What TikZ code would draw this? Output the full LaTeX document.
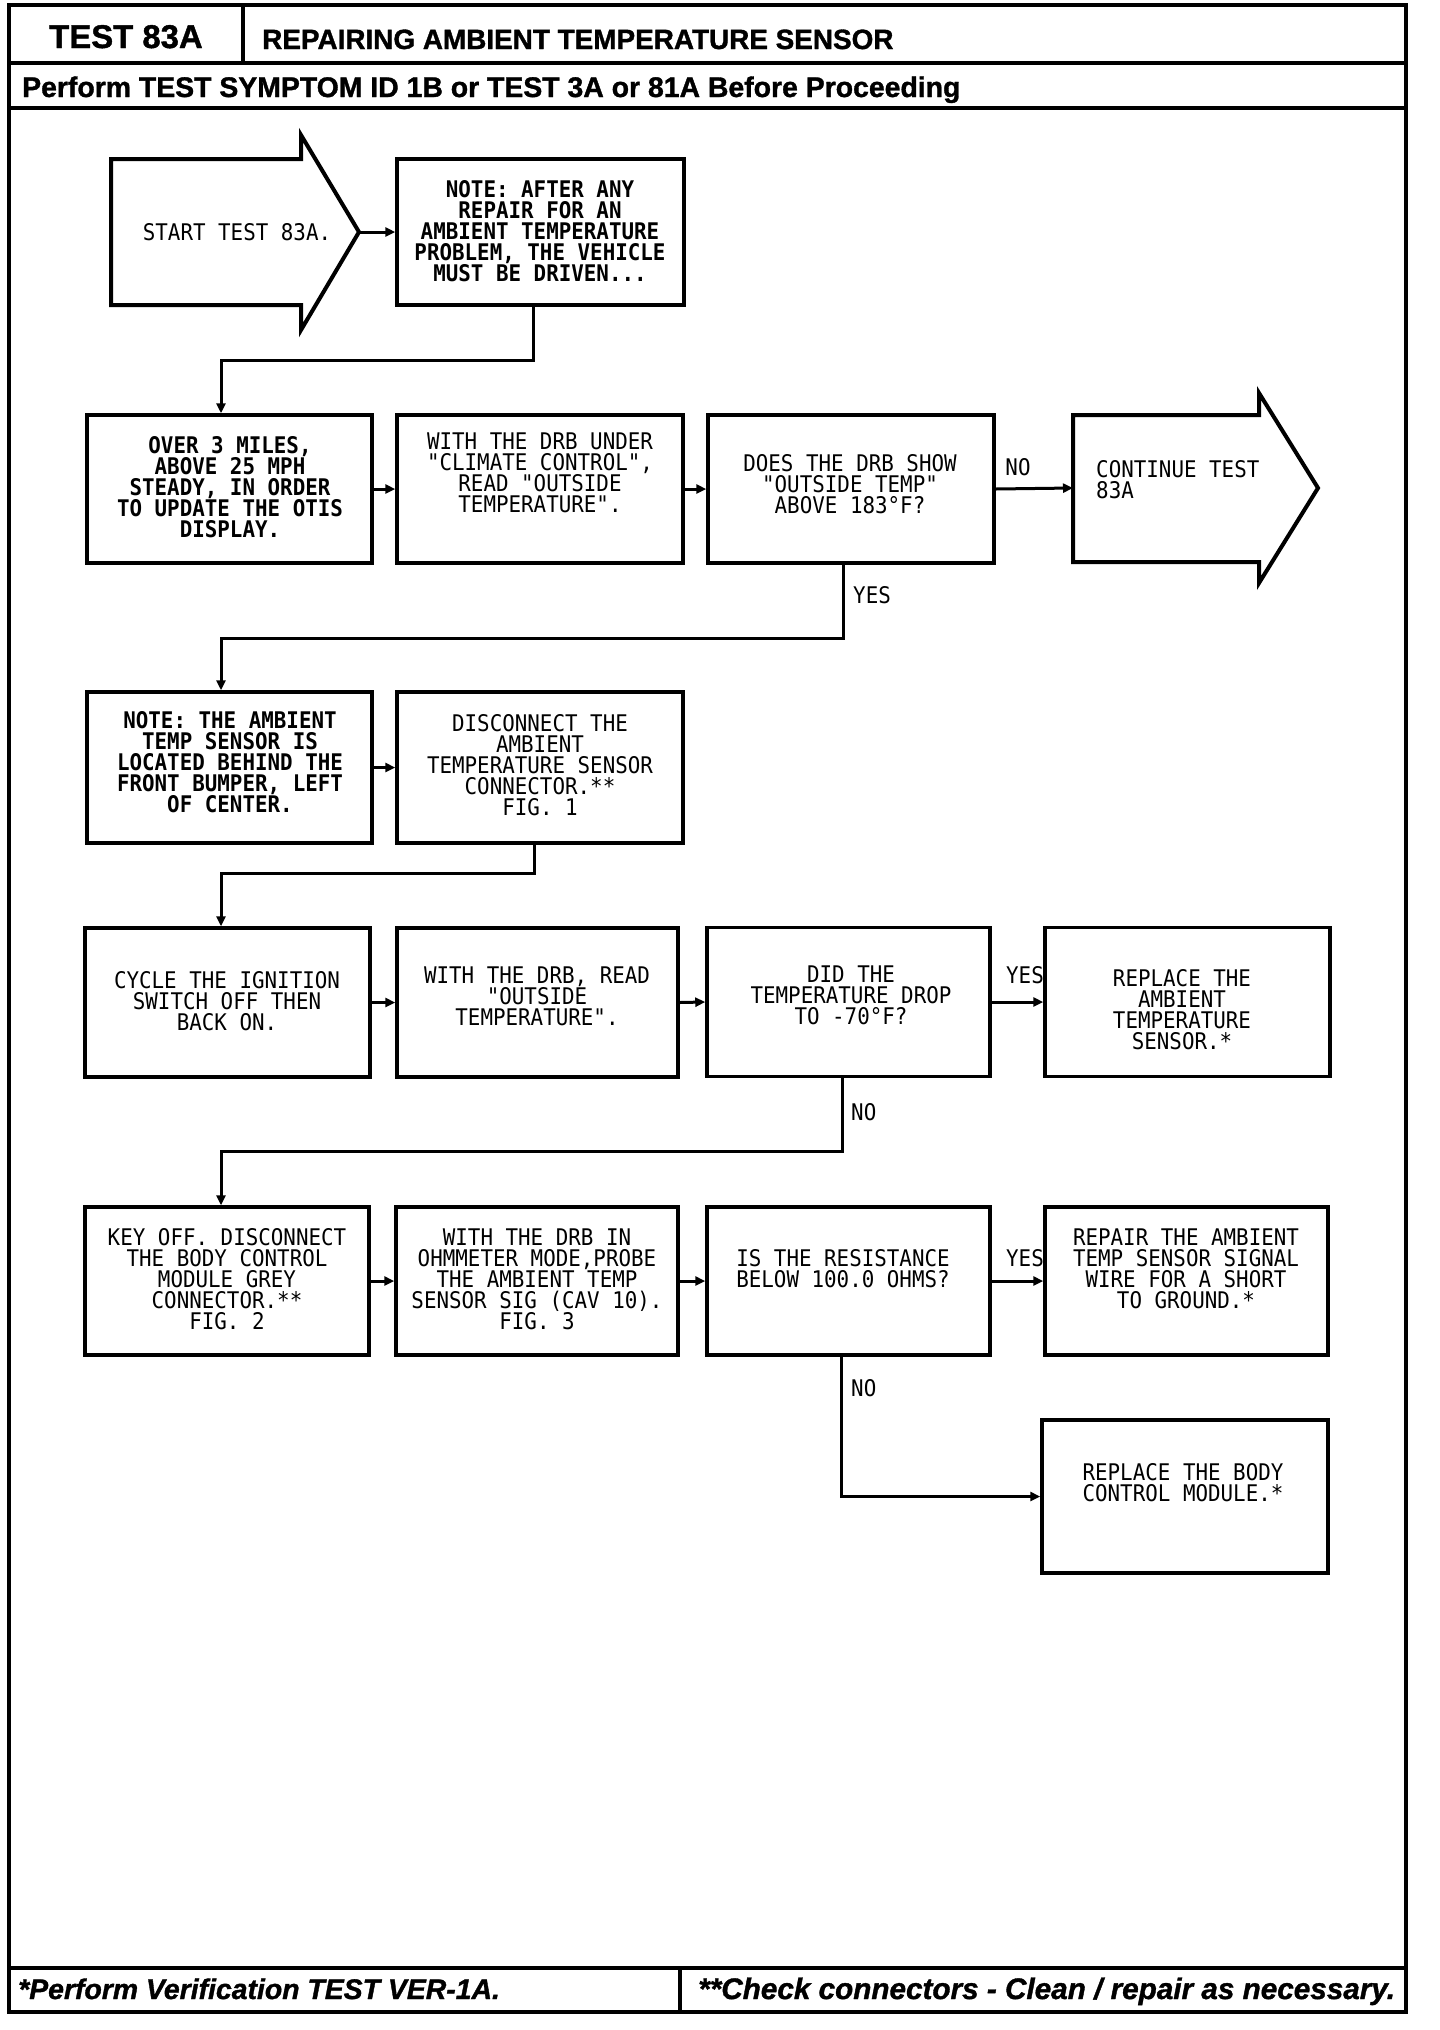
\documentclass[tikz,border=0pt]{standalone}
\usepackage{fontspec}
\setmainfont{Liberation Sans}
\newfontfamily\plotfont[FakeStretch=0.91]{DejaVu Sans Mono}
\newfontfamily\hdfont[FakeBold=1.2]{Liberation Sans Bold}
\newfontfamily\ftfont[FakeBold=1.2]{Liberation Sans Bold Italic}
\usetikzlibrary{arrows.meta}
\begin{document}
\begin{tikzpicture}[x=1bp,y=-1bp,
  box/.style={draw, line width=3.5bp, minimum width=285bp, minimum height=148bp, inner sep=0pt},
  txt/.style={font=\plotfont\fontsize{23}{21}\selectfont, align=center, inner sep=0pt},
  btxt/.style={txt, font=\plotfont\bfseries\fontsize{23}{21}\selectfont},
  lbl/.style={font=\plotfont\fontsize{23}{21}\selectfont, inner sep=0pt},
  conn/.style={line width=3bp, -{Triangle[length=10bp,width=9bp]}},
  rule/.style={line width=4bp, line join=miter},
  head/.style={font=\hdfont\fontsize{28}{28}\selectfont, inner sep=0pt},
  foot/.style={font=\ftfont\fontsize{28.5}{28.5}\selectfont, inner sep=0pt},
]
\useasboundingbox (0,0) rectangle (1440,2030);
% frame
\draw[rule] (9,5) rectangle (1406,2012);
\draw[rule] (9,63) -- (1406,63);
\draw[rule] (243,5) -- (243,63);
\draw[rule] (9,108) -- (1406,108);
\draw[rule] (9,1968) -- (1406,1968);
\draw[rule] (680,1968) -- (680,2012);
% header
\node[head, font=\hdfont\fontsize{33}{33}\selectfont, anchor=base] (t1) at (126,48) {TEST 83A};
\node[head, anchor=base west] (t2) at (262,49) {REPAIRING AMBIENT TEMPERATURE SENSOR};
\node[head, font=\hdfont\fontsize{28.5}{28.5}\selectfont, anchor=base west] (t3) at (22,97) {Perform TEST SYMPTOM ID 1B or TEST 3A or 81A Before Proceeding};
% footer
\node[foot, anchor=base west] (f1) at (18,1999) {*Perform Verification TEST VER-1A.};
\node[foot, font=\ftfont\fontsize{29.8}{29.8}\selectfont, anchor=base west] (f2) at (698,1999) {**Check connectors - Clean / repair as necessary.};

% row 1
\draw[rule] (111,159) -- (301,159) -- (301,135) -- (359,232) -- (301,330) -- (301,305) -- (111,305) -- cycle;
\coordinate (starttip) at (359,232);
\node[txt] (starttxt) at (237,232) {START TEST 83A.};
\node[box, minimum width=287bp, minimum height=146bp] (note) at (540.5,232) {};
\node[btxt] (notetxt) at (540,231) {NOTE: AFTER ANY\\REPAIR FOR AN\\AMBIENT TEMPERATURE\\PROBLEM, THE VEHICLE\\MUST BE DRIVEN...};

% row 2
\node[box] (A) at (229.5,489) {};
\node[box, minimum width=286bp] (B) at (540,489) {};
\node[box, minimum width=286bp] (C) at (851,489) {};
\node[btxt] (Atxt) at (230,487) {OVER 3 MILES,\\ABOVE 25 MPH\\STEADY, IN ORDER\\TO UPDATE THE OTIS\\DISPLAY.};
\node[txt] (Btxt) at (540,473) {WITH THE DRB UNDER\\"CLIMATE CONTROL",\\READ "OUTSIDE\\TEMPERATURE".};
\node[txt] (Ctxt) at (850,484) {DOES THE DRB SHOW\\"OUTSIDE TEMP"\\ABOVE 183°F?};
\draw[rule] (1073,415) -- (1259,415) -- (1259,393) -- (1318,488) -- (1259,583) -- (1259,562) -- (1073,562) -- cycle;
\coordinate (contw) at (1073,488);
\node[txt, align=left, anchor=north west] (conttxt) at (1096,460) {CONTINUE TEST\\83A};

% row 3
\node[box, minimum height=151bp] (D) at (229.5,767.5) {};
\node[box, minimum width=286bp, minimum height=151bp] (E) at (540,767.5) {};
\node[btxt] (Dtxt) at (230,762) {NOTE: THE AMBIENT\\TEMP SENSOR IS\\LOCATED BEHIND THE\\FRONT BUMPER, LEFT\\OF CENTER.};
\node[txt] (Etxt) at (540,765) {DISCONNECT THE\\AMBIENT\\TEMPERATURE SENSOR\\CONNECTOR.**\\FIG. 1};

% row 4
\node[box, minimum height=149bp] (F) at (227.5,1002.5) {};
\node[box, minimum width=281bp, minimum height=149bp] (G) at (537.5,1002.5) {};
\node[box, minimum width=283bp, minimum height=149bp] (H) at (848.5,1002) {};
\node[box, minimum height=149bp] (I) at (1187.5,1002) {};
\node[txt] (Ftxt) at (227,1001) {CYCLE THE IGNITION\\SWITCH OFF THEN\\BACK ON.};
\node[txt] (Gtxt) at (537,996) {WITH THE DRB, READ\\"OUTSIDE\\TEMPERATURE".};
\node[txt] (Htxt) at (851,995) {DID THE\\TEMPERATURE DROP\\TO -70°F?};
\node[txt] (Itxt) at (1182,1010) {REPLACE THE\\AMBIENT\\TEMPERATURE\\SENSOR.*};

% row 5
\node[box, minimum width=284bp] (J) at (227,1281) {};
\node[box, minimum width=282bp] (K) at (537,1281) {};
\node[box, minimum width=283bp] (L) at (848.5,1281) {};
\node[box, minimum width=283bp] (M) at (1186.5,1281) {};
\node[box, minimum width=286bp, minimum height=153bp] (N) at (1185,1496.5) {};
\node[txt] (Jtxt) at (227,1279) {KEY OFF. DISCONNECT\\THE BODY CONTROL\\MODULE GREY\\CONNECTOR.**\\FIG. 2};
\node[txt] (Ktxt) at (537,1279) {WITH THE DRB IN\\OHMMETER MODE,PROBE\\THE AMBIENT TEMP\\SENSOR SIG (CAV 10).\\FIG. 3};
\node[txt] (Ltxt) at (843,1269) {IS THE RESISTANCE\\BELOW 100.0 OHMS?};
\node[txt] (Mtxt) at (1186,1269) {REPAIR THE AMBIENT\\TEMP SENSOR SIGNAL\\WIRE FOR A SHORT\\TO GROUND.*};
\node[txt] (Ntxt) at (1183,1483) {REPLACE THE BODY\\CONTROL MODULE.*};

% connectors
\draw[conn] (starttip) -- (note.west);
\draw[conn] ([xshift=-7bp]note.south) -- ++(0,54) -| ([xshift=-8.5bp]A.north);
\draw[conn] (A.east) -- (B.west);
\draw[conn] (B.east) -- (C.west);
\draw[conn] (C.east) -- (contw);
\node[lbl] (lno1) at (1018,467) {NO};
\draw[conn] ([xshift=-8bp]C.south) -- ++(0,74) -| ([xshift=-8.5bp]D.north);
\node[lbl, anchor=west] (lyes1) at (853,595) {YES};
\draw[conn] (D.east) -- (E.west);
\draw[conn] ([xshift=-6bp]E.south) -- ++(0,29) -| ([xshift=-6.5bp]F.north);
\draw[conn] (F.east) -- (G.west);
\draw[conn] (G.east) -- (H.west);
\draw[conn] (H.east) -- (I.west);
\node[lbl] (lyes2) at (1025,975) {YES};
\draw[conn] ([xshift=-6.5bp]H.south) -- ++(0,73) -| ([xshift=-6bp]J.north);
\node[lbl, anchor=west] (lno2) at (851,1112) {NO};
\draw[conn] (J.east) -- (K.west);
\draw[conn] (K.east) -- (L.west);
\draw[conn] (L.east) -- (M.west);
\node[lbl] (lyes3) at (1025,1258) {YES};
\draw[conn] ([xshift=-7.5bp]L.south) |- (N.west);
\node[lbl, anchor=west] (lno3) at (851,1388) {NO};
\end{tikzpicture}
\end{document}
